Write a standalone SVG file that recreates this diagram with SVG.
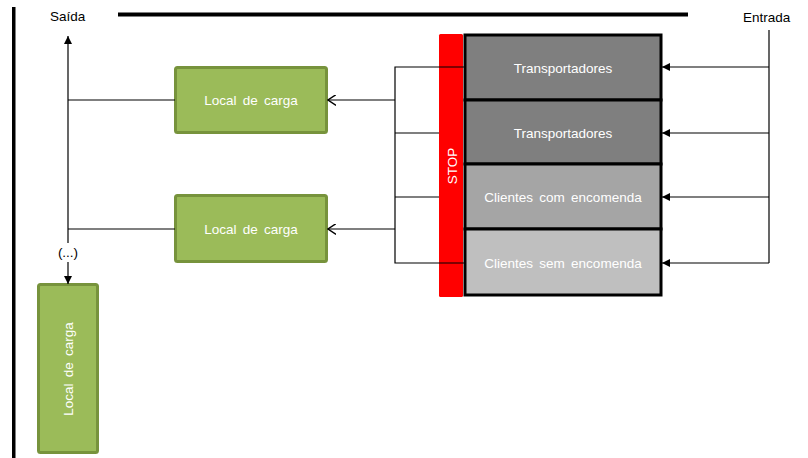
<svg xmlns="http://www.w3.org/2000/svg" width="808" height="458" viewBox="0 0 808 458">
  <defs>
    <style>
      text { font-family: "Liberation Sans", Arial, sans-serif; font-size: 13.5px; }
      .lbl { fill: #000; }
      .in { fill: #ffffff; text-anchor: middle; dominant-baseline: central; word-spacing: 2.5px; }
      .green { fill: #9BBB59; stroke: #77933C; stroke-width: 3; }
      .lane { stroke: #000; stroke-width: 3; }
      .wire { fill: none; stroke: #000; stroke-width: 1.2; }
    </style>
    <marker id="tri" viewBox="0 0 10 10" refX="10" refY="5" markerWidth="8" markerHeight="8" markerUnits="userSpaceOnUse" orient="auto">
      <path d="M0,0 L10,5 L0,10 z" fill="#000"/>
    </marker>
    <marker id="chev" viewBox="0 0 10 12" refX="9" refY="6" markerWidth="9" markerHeight="11" markerUnits="userSpaceOnUse" orient="auto">
      <path d="M0,0 L9,6 L0,12" fill="none" stroke="#000" stroke-width="1.6"/>
    </marker>
  </defs>

  <rect width="808" height="458" fill="#ffffff"/>

  <!-- frame: left wall and top bar -->
  <rect x="12" y="7" width="3.5" height="451" fill="#000"/>
  <rect x="118" y="12.5" width="570" height="4" fill="#000"/>
  <text class="lbl" x="50" y="21">Saída</text>
  <text class="lbl" x="743" y="22">Entrada</text>

  <!-- lanes -->
  <g id="lane-transportadores-1">
    <rect class="lane" x="465" y="35" width="196" height="65" fill="#7F7F7F"/>
    <text class="in" x="563" y="68">Transportadores</text>
  </g>
  <g id="lane-transportadores-2">
    <rect class="lane" x="465" y="100" width="196" height="64" fill="#7F7F7F"/>
    <text class="in" x="563" y="133">Transportadores</text>
  </g>
  <g id="lane-clientes-com">
    <rect class="lane" x="465" y="164" width="196" height="65" fill="#A5A5A5"/>
    <text class="in" x="563" y="197" fill="#f2f2f2">Clientes com encomenda</text>
  </g>
  <g id="lane-clientes-sem">
    <rect class="lane" x="465" y="229" width="196" height="66" fill="#BFBFBF"/>
    <text class="in" x="563" y="263" fill="#f2f2f2">Clientes sem encomenda</text>
  </g>

  <!-- stop barrier -->
  <g id="stop">
    <rect x="439" y="34" width="24" height="263" rx="1.5" fill="#FF0000"/>
    <text class="in" transform="translate(452,166) rotate(-90)" x="0" y="0">STOP</text>
  </g>

  <!-- loading bays -->
  <g id="local-1">
    <rect class="green" x="175.5" y="67.5" width="151" height="65" rx="2"/>
    <text class="in" x="251" y="100">Local de carga</text>
  </g>
  <g id="local-2">
    <rect class="green" x="175.5" y="195.5" width="151" height="66" rx="2"/>
    <text class="in" x="251" y="229">Local de carga</text>
  </g>
  <g id="local-3">
    <rect class="green" x="38.5" y="284.5" width="59" height="168" rx="2"/>
    <text class="in" transform="translate(68,369) rotate(-90)" x="0" y="0">Local de carga</text>
  </g>
  <text class="lbl" x="68" y="257" text-anchor="middle">(...)</text>

  <!-- connectors -->
  <g id="connectors">
    <!-- entry feed -->
    <path class="wire" d="M769,30 V263"/>
    <path class="wire" d="M769,67 H662" marker-end="url(#tri)"/>
    <path class="wire" d="M769,133 H662" marker-end="url(#tri)"/>
    <path class="wire" d="M769,197 H662" marker-end="url(#tri)"/>
    <path class="wire" d="M769,263 H662" marker-end="url(#tri)"/>
    <!-- lane exits to collector -->
    <path class="wire" d="M465,67 H395 V263 H465"/>
    <path class="wire" d="M439,133 H395"/>
    <path class="wire" d="M439,197 H395"/>
    <!-- collector to bays -->
    <path class="wire" d="M395,100 H328" marker-end="url(#chev)"/>
    <path class="wire" d="M395,229 H328" stroke-width="2" marker-end="url(#chev)"/>
    <!-- bays to exit -->
    <path class="wire" d="M175,100 H68"/>
    <path class="wire" d="M175,229 H68"/>
    <path class="wire" d="M68,243 V36" marker-end="url(#tri)"/>
    <path class="wire" d="M68,262 V284" marker-end="url(#tri)"/>
  </g>
</svg>
